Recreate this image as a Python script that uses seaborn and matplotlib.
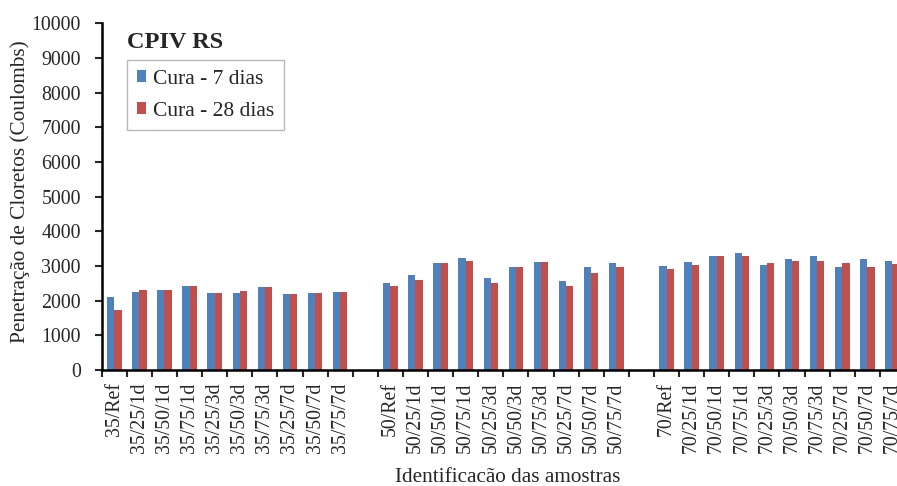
import numpy as np
import pandas as pd
import matplotlib
matplotlib.use("Agg")
import matplotlib.pyplot as plt
from matplotlib.patches import Patch
from matplotlib.ticker import FixedLocator, NullFormatter
import seaborn as sns

# Sample identifiers per cement-content group (a gap separates the groups)
group35 = ["35/Ref", "35/25/1d", "35/50/1d", "35/75/1d", "35/25/3d",
           "35/50/3d", "35/75/3d", "35/25/7d", "35/50/7d", "35/75/7d"]
group50 = ["50/Ref", "50/25/1d", "50/50/1d", "50/75/1d", "50/25/3d",
           "50/50/3d", "50/75/3d", "50/25/7d", "50/50/7d", "50/75/7d"]
group70 = ["70/Ref", "70/25/1d", "70/50/1d", "70/75/1d", "70/25/3d",
           "70/50/3d", "70/75/3d", "70/25/7d", "70/50/7d", "70/75/7d"]

# Chloride penetration (Coulombs)
cura7 = [2100, 2240, 2320, 2410, 2210, 2210, 2385, 2180, 2210, 2250,
         2500, 2740, 3085, 3230, 2665, 2970, 3115, 2580, 2970, 3085,
         3000, 3115, 3290, 3375, 3030, 3200, 3290, 2970, 3200, 3145]
cura28 = [1730, 2320, 2320, 2410, 2210, 2270, 2385, 2180, 2210, 2250,
          2410, 2605, 3085, 3145, 2500, 2970, 3115, 2410, 2805, 2970,
          2915, 3030, 3290, 3290, 3085, 3145, 3145, 3085, 2970, 3055]

series_names = ["Cura - 7 dias", "Cura - 28 dias"]
colors = {"Cura - 7 dias": "#4F81BD", "Cura - 28 dias": "#C0504D"}

samples = group35 + group50 + group70
df = pd.DataFrame({
    "Amostra": samples * 2,
    "Cura": [series_names[0]] * len(samples) + [series_names[1]] * len(samples),
    "Valor": cura7 + cura28,
})

# Blank slots between groups
order = group35 + [" "] + group50 + ["  "] + group70

sns.set_style("ticks")
plt.rcParams["font.family"] = ["Liberation Serif", "DejaVu Serif"]

fig = plt.figure(figsize=(8.97, 4.86), dpi=100)
ax = fig.add_axes([0.1134, 0.2387, 0.8955, 0.7134])

sns.barplot(data=df, x="Amostra", y="Valor", hue="Cura", order=order,
            hue_order=series_names, palette=colors, saturation=1,
            width=0.58, errorbar=None, linewidth=0, ax=ax)

n = len(order)
ax.set_xlim(-0.5, n - 0.5)
ax.set_ylim(0, 10000)
ax.set_yticks(np.arange(0, 10001, 1000))

# Tick marks at category boundaries, labels at category centres
ax.xaxis.set_major_locator(FixedLocator(np.arange(-0.5, n, 1.0)))
ax.xaxis.set_major_formatter(NullFormatter())
ax.xaxis.set_minor_locator(FixedLocator(np.arange(n)))
ax.set_xticklabels(order, minor=True, rotation=90, fontsize=14.3)
ax.tick_params(axis="x", which="major", length=5, width=1.5, direction="out")
ax.tick_params(axis="x", which="minor", length=0, pad=9)
ax.tick_params(axis="y", length=5, width=1.5, direction="out", pad=10,
               labelsize=14.3)

for side in ("top", "right"):
    ax.spines[side].set_visible(False)
for side in ("left", "bottom"):
    ax.spines[side].set_linewidth(1.8)
    ax.spines[side].set_color("black")

ax.set_xlabel("")
ax.set_ylabel("")
fig.text(20 / 897, 1 - 192 / 486, "Penetração de Cloretos (Coulombs)",
         rotation=90, ha="center", va="center", fontsize=15.3)
fig.text(508 / 897, 1 - 477 / 486, "Identificacão das amostras",
         ha="center", va="center", fontsize=15.3)

fig.text(127 / 897, 1 - 48 / 486, "CPIV RS", fontsize=17.5,
         fontweight="bold", ha="left", va="baseline")

handles = [Patch(facecolor=colors[s], edgecolor="none") for s in series_names]
ax.get_legend().remove()
leg = fig.legend(handles, series_names, loc="upper left",
                 bbox_to_anchor=(127 / 897, 1 - 60 / 486),
                 frameon=True, fancybox=False, edgecolor="#a6a6a6",
                 fontsize=15.5, handlelength=0.45, handleheight=0.45,
                 handletextpad=0.3, labelspacing=0.6, borderpad=0.45,
                 borderaxespad=0)
leg.get_frame().set_linewidth(1.0)

fig.savefig("out.png", dpi=100)
